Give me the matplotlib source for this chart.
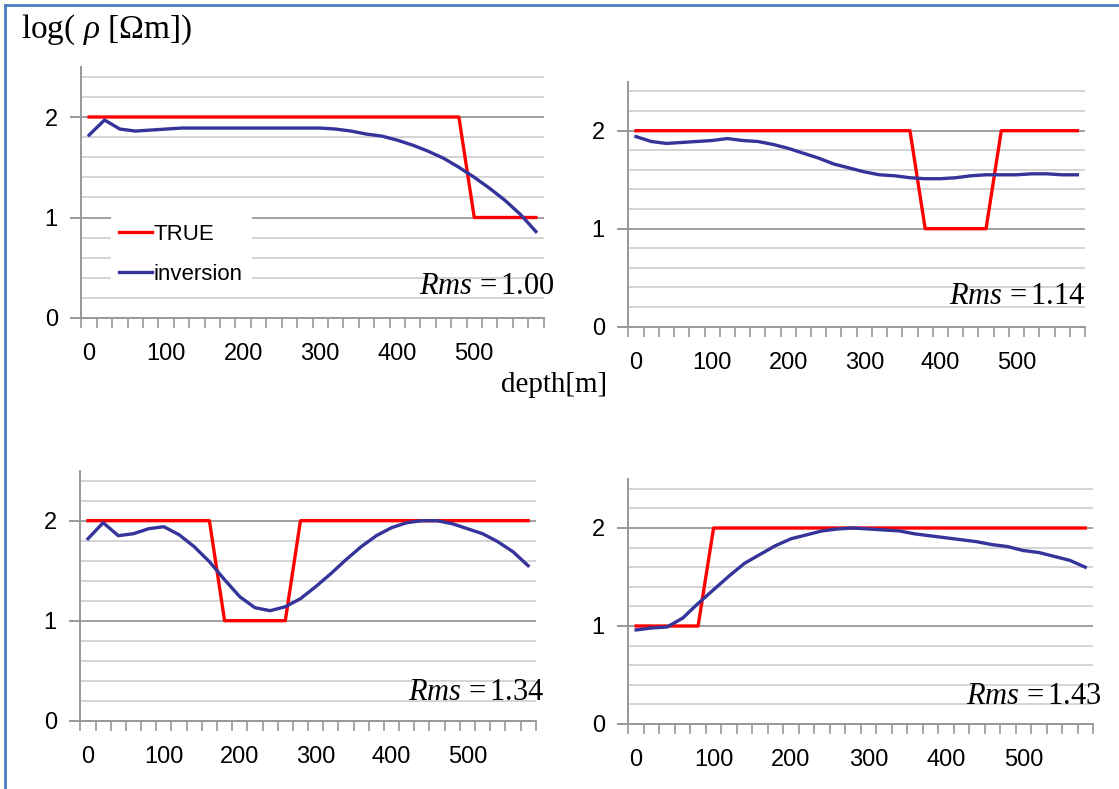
import matplotlib
matplotlib.use("Agg")
import matplotlib.pyplot as plt
from matplotlib.lines import Line2D

# depth categories [m]
depth = [0, 20, 40, 60, 80, 100, 120, 140, 160, 180, 200, 220, 240, 260, 280,
         300, 320, 340, 360, 380, 400, 420, 440, 460, 480, 500, 520, 540, 560, 580]
depth_labels = ["0", "100", "200", "300", "400", "500"]

# log10 resistivity, true models
true1 = [2, 2, 2, 2, 2, 2, 2, 2, 2, 2, 2, 2, 2, 2, 2,
         2, 2, 2, 2, 2, 2, 2, 2, 2, 2, 1, 1, 1, 1, 1]
true2 = [2, 2, 2, 2, 2, 2, 2, 2, 2, 2, 2, 2, 2, 2, 2,
         2, 2, 2, 2, 1, 1, 1, 1, 1, 2, 2, 2, 2, 2, 2]
true3 = [2, 2, 2, 2, 2, 2, 2, 2, 2, 1, 1, 1, 1, 1, 2,
         2, 2, 2, 2, 2, 2, 2, 2, 2, 2, 2, 2, 2, 2, 2]
true4 = [1, 1, 1, 1, 1, 2, 2, 2, 2, 2, 2, 2, 2, 2, 2,
         2, 2, 2, 2, 2, 2, 2, 2, 2, 2, 2, 2, 2, 2, 2]

# inversion results
inv1 = [1.82, 1.97, 1.88, 1.86, 1.87, 1.88, 1.89, 1.89, 1.89, 1.89, 1.89, 1.89, 1.89, 1.89, 1.89,
        1.89, 1.88, 1.86, 1.83, 1.81, 1.77, 1.72, 1.66, 1.59, 1.50, 1.40, 1.29, 1.17, 1.03, 0.86]
inv2 = [1.94, 1.89, 1.87, 1.88, 1.89, 1.90, 1.92, 1.90, 1.89, 1.86, 1.82, 1.77, 1.72, 1.66, 1.62,
        1.58, 1.55, 1.54, 1.52, 1.51, 1.51, 1.52, 1.54, 1.55, 1.55, 1.55, 1.56, 1.56, 1.55, 1.55]
inv3 = [1.82, 1.98, 1.85, 1.87, 1.92, 1.94, 1.86, 1.74, 1.59, 1.41, 1.24, 1.13, 1.10, 1.14, 1.22,
        1.34, 1.47, 1.61, 1.74, 1.85, 1.93, 1.98, 2.00, 2.00, 1.97, 1.92, 1.87, 1.79, 1.69, 1.55]
inv4 = [0.96, 0.98, 0.99, 1.08, 1.23, 1.37, 1.51, 1.64, 1.73, 1.82, 1.89, 1.93, 1.97, 1.99, 2.00,
        1.99, 1.98, 1.97, 1.94, 1.92, 1.90, 1.88, 1.86, 1.83, 1.81, 1.77, 1.75, 1.71, 1.67, 1.60]

rms = ["1.00", "1.14", "1.34", "1.43"]

grid_levels = [0.2, 0.4, 0.6, 0.8, 1.0, 1.2, 1.4, 1.6, 1.8, 2.0, 2.2, 2.4]

plt.rcParams['font.family'] = ['Liberation Sans', 'DejaVu Sans']
plt.rcParams['mathtext.fontset'] = 'custom'
plt.rcParams['mathtext.rm'] = 'Liberation Serif'
plt.rcParams['mathtext.it'] = 'Liberation Serif:italic'

W, H = 1119, 789
fig = plt.figure(figsize=(W / 100, H / 100), dpi=100)


def px(x, y):
    return x / W, 1 - y / H


# axes boxes in pixels: left, top, right, bottom
boxes = [(81.4, 66.75, 543.6, 318.0),
         (628.4, 81.7, 1085.0, 326.7),
         (80.4, 470.7, 535.7, 720.7),
         (628.4, 479.0, 1093.0, 724.0)]
rms_pos = [(554, 287), (1085, 297), (544, 693), (1101, 697)]
trues = [true1, true2, true3, true4]
invs = [inv1, inv2, inv3, inv4]

RED = '#ff0000'
BLUE = '#34349a'
GRID = '#d4d4d4'
GRID_DARK = '#a0a0a0'
AXIS = '#989898'

axes = []
for i in range(4):
    l, t, r, b = boxes[i]
    ax = fig.add_axes([l / W, 1 - b / H, (r - l) / W, (b - t) / H])
    axes.append(ax)
    cats = list(range(len(depth)))
    for g in grid_levels:
        c = GRID_DARK if g in (1.0, 2.0) else GRID
        ax.axhline(g, color=c, lw=1.4, zorder=0)
    ax.plot(cats, trues[i], color=RED, lw=2.4, zorder=3, label='TRUE')
    ax.plot(cats, invs[i], color=BLUE, lw=2.4, zorder=4, label='inversion')
    ax.set_xlim(-0.5, len(depth) - 0.5)
    ax.set_ylim(0, 2.5)
    for s in ['top', 'right']:
        ax.spines[s].set_visible(False)
    for s in ['left', 'bottom']:
        ax.spines[s].set_color(AXIS)
        ax.spines[s].set_linewidth(1.4)
    ax.set_yticks([0, 1, 2])
    ax.set_yticklabels(['0', '1', '2'])
    ax.tick_params(axis='y', length=8, width=1.4, color=AXIS, pad=9, labelsize=17)
    ax.set_xticks([depth.index(int(s)) for s in depth_labels])
    ax.set_xticklabels(depth_labels)
    ax.set_xticks([k - 0.5 for k in range(len(depth) + 1)], minor=True)
    ax.tick_params(axis='x', which='major', length=0, pad=18, labelsize=17)
    ax.tick_params(axis='x', which='minor', length=7, width=1.2, color=AXIS)
    x, y = rms_pos[i]
    fig.text(*px(x, y), r'$Rms$ =$\,$' + rms[i], ha='right', va='center',
             fontsize=22, family='Liberation Serif')

leg = axes[0].legend(loc='upper left', bbox_to_anchor=(0.063, 0.41), borderaxespad=0,
                     frameon=True, facecolor='white', edgecolor='none', framealpha=1,
                     fontsize=16, handlelength=1.45, handletextpad=0.1,
                     labelspacing=0.85, borderpad=0.4)
leg.set_zorder(5)

fig.text(*px(20.7, 38), r'log( $\rho$ [$\Omega$m])', fontsize=24, ha='left',
         va='baseline', family='Liberation Serif')
fig.text(*px(500.7, 391.7), 'depth[m]', fontsize=21, ha='left', va='baseline',
         family='Liberation Serif')

# blue frame (top and left edges)
fig.add_artist(Line2D([px(5, 0)[0], px(5, 0)[0]], [0, px(0, 5)[1]], color='#4a7ebb', lw=2))
fig.add_artist(Line2D([px(5, 0)[0], 1], [px(0, 5)[1], px(0, 5)[1]], color='#4a7ebb', lw=2))

fig.savefig('out.png', dpi=100)
